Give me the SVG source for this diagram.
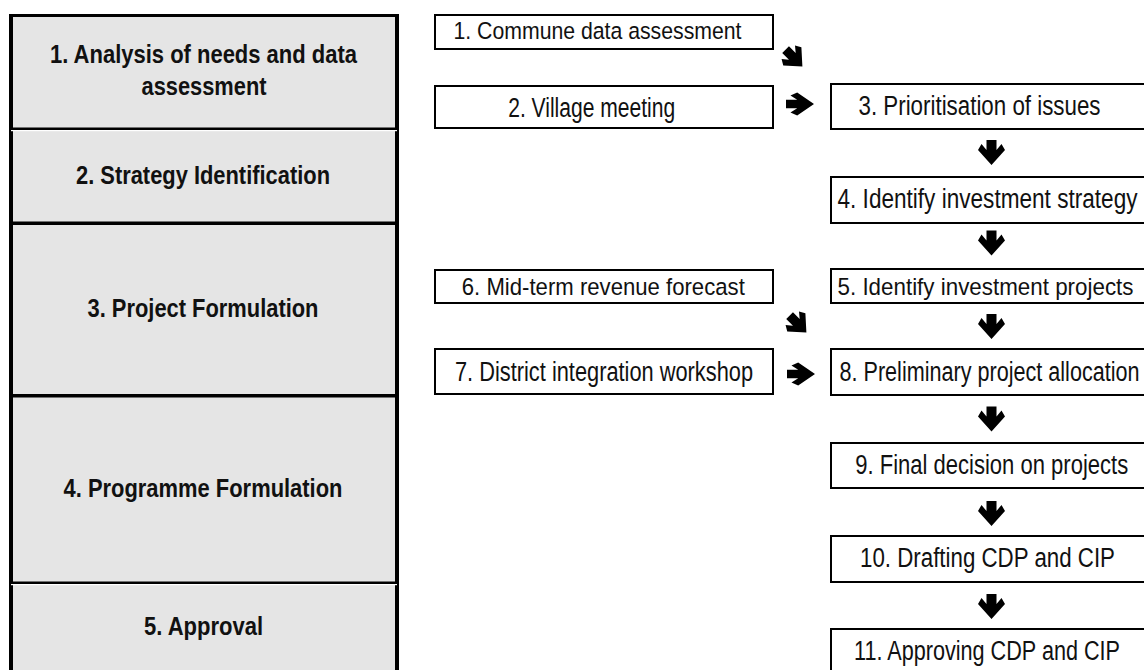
<svg xmlns="http://www.w3.org/2000/svg" width="1144" height="670" viewBox="0 0 1144 670">
<style>
.bg{fill:#ffffff}
.col{fill:#e5e5e5}
.bar{fill:#000000}
.wl{fill:#ffffff}
.box{fill:#ffffff;stroke:#000000;stroke-width:2}
.lt{font-family:"Liberation Sans",Arial,sans-serif;font-weight:bold;font-size:25.5px;fill:#111111;text-anchor:middle}
.t{font-family:"Liberation Sans",Arial,sans-serif;font-size:27px;fill:#111111;text-anchor:middle}
.ts{font-family:"Liberation Sans",Arial,sans-serif;font-size:24.5px;fill:#111111;text-anchor:middle}
.arw{fill:#000000}
</style>
<defs>
<path id="arw" d="M-5,-12.5 H5 V-2.5 L10,-8.5 L13.5,-2.5 L0,12.5 L-13.5,-2.5 L-10,-8.5 L-5,-2.5 Z"/>
</defs>
<rect class="bg" x="0" y="0" width="1144" height="670"/>

<g id="phases">
  <rect class="col" x="11" y="15" width="386" height="660"/>
  <rect class="bar" x="9" y="14" width="4" height="660"/>
  <rect class="bar" x="395" y="14" width="4" height="660"/>
  <rect class="bar" x="9" y="14" width="390" height="3"/>
  <rect class="bar" x="11" y="127.5" width="386" height="2.5"/>
  <rect class="wl" x="11" y="130" width="386" height="1.2"/>
  <rect class="bar" x="11" y="221.5" width="386" height="3.5"/>
  <rect class="bar" x="11" y="394" width="386" height="3.5"/>
  <rect class="bar" x="11" y="581.5" width="386" height="2.5"/>
  <rect class="wl" x="11" y="584" width="386" height="1.2"/>
</g>

<g id="phase1">
  <text class="lt" x="203.5" y="63" textLength="307" lengthAdjust="spacingAndGlyphs">1. Analysis of needs and data</text>
  <text class="lt" x="204" y="95" textLength="125" lengthAdjust="spacingAndGlyphs">assessment</text>
</g>
<g id="phase2">
  <text class="lt" x="203" y="184" textLength="254" lengthAdjust="spacingAndGlyphs">2. Strategy Identification</text>
</g>
<g id="phase3">
  <text class="lt" x="203" y="317" textLength="231" lengthAdjust="spacingAndGlyphs">3. Project Formulation</text>
</g>
<g id="phase4">
  <text class="lt" x="203" y="497" textLength="279" lengthAdjust="spacingAndGlyphs">4. Programme Formulation</text>
</g>
<g id="phase5">
  <text class="lt" x="203.5" y="635" textLength="119" lengthAdjust="spacingAndGlyphs">5. Approval</text>
</g>

<g id="step1">
  <rect class="box" x="435" y="15" width="338" height="34"/>
  <text class="ts" x="597.5" y="39" textLength="288" lengthAdjust="spacingAndGlyphs">1. Commune data assessment</text>
</g>
<g id="step2">
  <rect class="box" x="435" y="86" width="338" height="42"/>
  <text class="t" x="591.7" y="116.5" textLength="167" lengthAdjust="spacingAndGlyphs">2. Village meeting</text>
</g>
<g id="step3">
  <path class="box" d="M1144,84 H831 V129 H1144"/>
  <text class="t" x="979.5" y="115" textLength="242" lengthAdjust="spacingAndGlyphs">3. Prioritisation of issues</text>
</g>
<g id="step4">
  <path class="box" d="M1144,177 H831 V223 H1144"/>
  <text class="t" x="987.5" y="208" textLength="300" lengthAdjust="spacingAndGlyphs">4. Identify investment strategy</text>
</g>
<g id="step5">
  <path class="box" d="M1144,269 H831 V303 H1144"/>
  <text class="ts" x="985.5" y="295" textLength="296" lengthAdjust="spacingAndGlyphs">5. Identify investment projects</text>
</g>
<g id="step6">
  <rect class="box" x="435" y="270" width="338" height="33"/>
  <text class="ts" x="603.3" y="295" textLength="283" lengthAdjust="spacingAndGlyphs">6. Mid-term revenue forecast</text>
</g>
<g id="step7">
  <rect class="box" x="435" y="349" width="338" height="45"/>
  <text class="t" x="604" y="381" textLength="298" lengthAdjust="spacingAndGlyphs">7. District integration workshop</text>
</g>
<g id="step8">
  <path class="box" d="M1144,349 H831 V395 H1144"/>
  <text class="t" x="989.5" y="380.5" textLength="300" lengthAdjust="spacingAndGlyphs">8. Preliminary project allocation</text>
</g>
<g id="step9">
  <path class="box" d="M1144,443 H831 V488 H1144"/>
  <text class="t" x="991.7" y="474" textLength="273" lengthAdjust="spacingAndGlyphs">9. Final decision on projects</text>
</g>
<g id="step10">
  <path class="box" d="M1144,536 H831 V582 H1144"/>
  <text class="t" x="987.5" y="567" textLength="255" lengthAdjust="spacingAndGlyphs">10. Drafting CDP and CIP</text>
</g>
<g id="step11">
  <path class="box" d="M1144,629 H831 V672"/>
  <text class="t" x="987" y="660" textLength="266" lengthAdjust="spacingAndGlyphs">11. Approving CDP and CIP</text>
</g>

<g id="connectors" class="arw">
  <use href="#arw" transform="translate(794,58) rotate(-45) scale(0.95)"/>
  <use href="#arw" transform="translate(800,104) rotate(-90) scale(0.85,1.12)"/>
  <use href="#arw" transform="translate(991.5,152.5)"/>
  <use href="#arw" transform="translate(991.5,243)"/>
  <use href="#arw" transform="translate(991.5,326.5)"/>
  <use href="#arw" transform="translate(798,324) rotate(-45) scale(0.95)"/>
  <use href="#arw" transform="translate(801,374) rotate(-90) scale(0.85,1.12)"/>
  <use href="#arw" transform="translate(991.5,419)"/>
  <use href="#arw" transform="translate(991.5,513.5)"/>
  <use href="#arw" transform="translate(991.5,606.5)"/>
</g>
</svg>
